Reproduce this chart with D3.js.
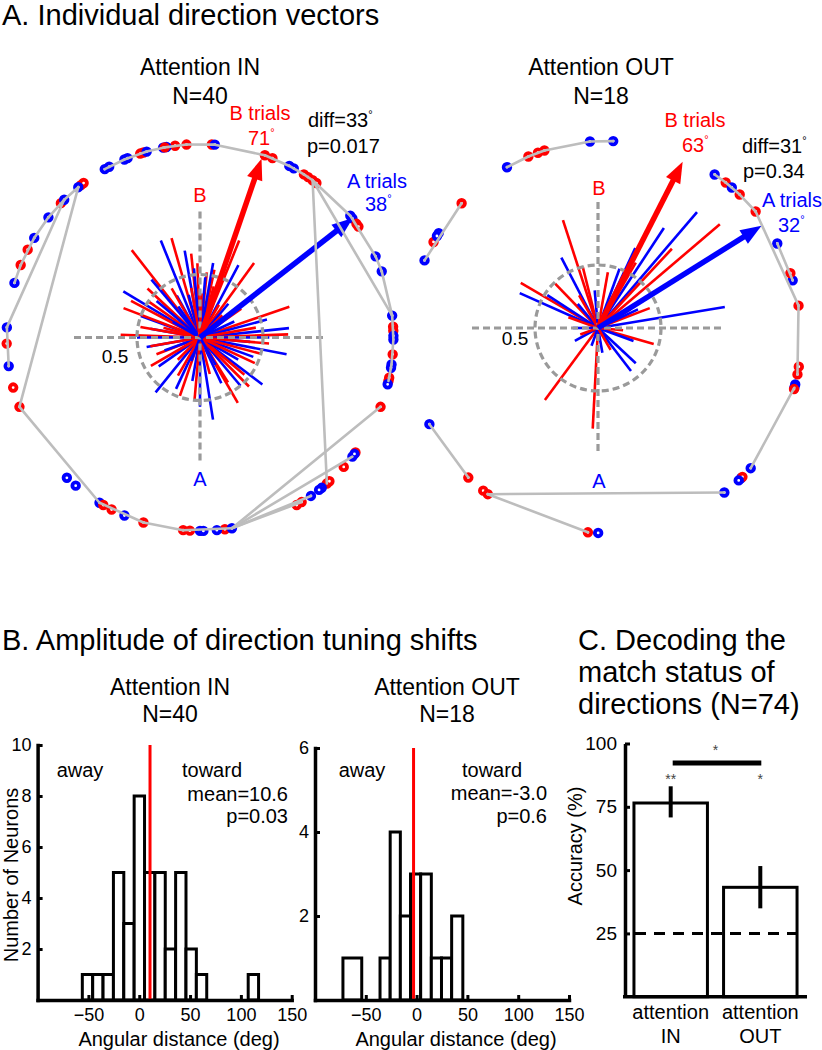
<!DOCTYPE html>
<html><head><meta charset="utf-8">
<script src="https://cdn.jsdelivr.net/npm/d3@7"></script>
<style>body{margin:0;background:#fff}svg{display:block}text{font-family:"Liberation Sans",Arial,Helvetica,sans-serif}</style>
</head><body><svg id="c" width="822" height="1050"></svg>
<script>
// ---------------- DATA ----------------
// Panel A, Attention IN : rays [angle deg, length]
const inRaysA = [[112,0.83],[149,0.71],[190,0.43],[231,0.56],[323,0.62],[349,0.70],[6,0.71],[62,0.65],[119,0.38],[160,0.50],[279,0.66],[95,0.55],[100,0.70],[85,0.48],[70,0.45],[50,0.35],[25,0.30],[15,0.55],[0,0.55],[355,0.40],[340,0.45],[330,0.35],[310,0.50],[295,0.40],[270,0.55],[260,0.35],[245,0.45],[215,0.40],[200,0.30],[180,0.50],[170,0.40],[140,0.45],[130,0.60],[125,0.30],[105,0.35],[80,0.60],[40,0.20],[300,0.25],[250,0.20],[150,0.25]];
const inRaysB = [[128,0.88],[106,0.82],[96,0.67],[92,0.59],[84,0.52],[68,0.83],[54,0.73],[19,0.75],[2,0.70],[137,0.57],[159,0.65],[178,0.63],[201,0.37],[251,0.49],[302,0.42],[320,0.46],[152,0.62],[145,0.50],[120,0.45],[88,0.35],[78,0.55],[75,0.42],[60,0.30],[35,0.40],[10,0.45],[355,0.55],[345,0.50],[335,0.48],[315,0.55],[300,0.60],[285,0.30],[265,0.50],[240,0.35],[225,0.25],[210,0.45],[190,0.40],[170,0.48],[165,0.30],[100,0.40],[45,0.25]];
const inDotsA = [119.5,118,113,112,106,101,100,85.6,62.5,61,39,38,24.8,20,6.5,359.4,352,351,129,134.6,141.6,149,163.6,177,188.5,226.5,230,238.7,247,270,271,275,279.5,305,309,322,323,346,0.5,308];
const inDotsB = [107,108,97.4,94,86.5,70.4,68,57.5,56,54.4,53,36,35,3.2,2,355,128,127,136,153,158,181.8,195,201,242.8,253,265,267,277.4,301.7,311,312,318,323.5,339,347,348,100.5,240,300];
const inLinks = [[119.5,113],[113,106],[106,101],[101,94],[94,85.6],[85.6,70.4],[70.4,62.5],[62.5,57.5],[57.5,54.4],[54.4,39],[39,24.8],[24.8,20],[20,6.5],[54.4,6.5],[54.4,311],[6.5,359.4],[359.4,352],[352,347],[279.5,339],[279.5,322],[279.5,305],[279.5,301.7],[201,238.7],[238.7,253],[253,265],[265,279.5],[129,201],[134.6,177],[129,134.6],[134.6,141.6],[141.6,149],[149,158],[158,163.6],[177,188.5]];
const inMeanA = [38, 1.54];
const inMeanB = [71, 1.50];

// Panel A, Attention OUT
const outRaysA = [[117.5,0.63],[156,0.68],[147,0.48],[49.5,1.21],[56.6,0.95],[9.4,1.02],[317,0.41],[307.5,0.43],[209,0.21],[70,0.50],[95,0.30],[130,0.25],[25,0.35],[340,0.30],[280,0.20],[250,0.15],[180,0.20],[65,0.70]];
const outRaysB = [[108,0.90],[149.7,0.71],[134,0.49],[104,0.50],[40.4,1.27],[47,0.86],[21,0.44],[344,0.46],[233.6,0.71],[267,0.80],[60,0.60],[80,0.45],[120,0.30],[160,0.25],[30,0.30],[355,0.20],[300,0.20],[200,0.15]];
const outDotsA = [148,157,120,94.4,87.6,56,49.7,28.5,16.8,346,345,318,314,307.5,206.4,268,149,313];
const outDotsB = [137,151,113,110,108,52,46.6,39.8,19,9.2,351.3,349,344.6,314.5,225.8,231.6,233.3,265];
const outLinks = [[137,157],[120,113],[113,108],[108,94.4],[94.4,87.6],[56,52],[52,46.6],[46.6,39.8],[39.8,9.2],[28.5,16.8],[9.2,349],[345,318],[307.5,233.3],[233.3,265],[206.4,225.8]];
const outMeanA = [32, 1.53];
const outMeanB = [63, 1.48];

// Panel B histograms
const histBinWidth = 10.2;
const hist1Lo = [-56,-45.8,-35.6,-25.4,-15.2,-5,5.2,15.4,25.6,35.8,46,56.2,107.2];
const hist1Counts = [1,1,1,5,3,8,5,5,2,5,2,1,1];
const hist1Mean = 10.6;
const hist2Lo = [-72.5,-36,-26,-16,-6,4,14.5,24.5,34.5];
const hist2Hi = [-54,-26,-16,-6,4,14.5,24.5,34.5,45.5];
const hist2Counts = [1,1,4,2,3,3,1,1,2];
const hist2Mean = -3.0;
const histXTicks = [-50,0,50,100,150];
const hist1YTicks = [2,4,6,8,10];
const hist2YTicks = [2,4,6];

// Panel C
const decodeCats = ["IN","OUT"];
const decodeAcc = [76.5, 43.2];
const decodeErrHi = [83.1, 51.6];
const decodeErrLo = [70.8, 34.9];
const decodeChance = 25;
const accTicks = [25,50,75,100];

// ---------------- DRAW ----------------
const svg = d3.select("#c");
const RED = "#ff0000", BLUE = "#0000ff", GRAY = "#9a9a9a", LGRAY = "#bdbdbd";

function txt(x, y, s, o = {}) {
  const t = svg.append("text").attr("x", x).attr("y", y)
    .attr("font-size", o.size || 20).attr("fill", o.fill || "#000")
    .attr("text-anchor", o.anchor || "start");
  if (o.rot) t.attr("transform", `rotate(${o.rot},${x},${y})`);
  t.text(s);
  return t;
}
function degTxt(x, y, s, o = {}) {
  const t = txt(x, y, s, o);
  t.append("tspan").attr("font-size", 11).attr("dy", -9).text("°");
  return t;
}

function polar(cfg) {
  const g = svg.append("g");
  const r = d3.scaleLinear().domain([0, 1]).range([0, 126]);
  const Pc = (cx, cy) => (a, l) => [cx + r(l) * Math.cos(a * Math.PI / 180), cy - r(l) * Math.sin(a * Math.PI / 180)];
  const P = Pc(cfg.cx, cfg.cy);
  const PR = Pc(cfg.rcx, cfg.rcy);
  // rays (interleaved)
  const n = Math.max(cfg.raysA.length, cfg.raysB.length);
  for (let i = 0; i < n; i++) {
    [[cfg.raysB[i], RED], [cfg.raysA[i], BLUE]].forEach(([d, c]) => {
      if (!d) return;
      const p = P(d[0], d[1]);
      g.append("line").attr("x1", cfg.cx).attr("y1", cfg.cy).attr("x2", p[0]).attr("y2", p[1])
        .attr("stroke", c).attr("stroke-width", 2.6);
    });
  }
  // dashed axes & circle
  const dash = { stroke: GRAY, "stroke-width": 3.2, "stroke-dasharray": "7,4", fill: "none" };
  const hl = [P(180, 1), P(0, 1)], vl = [P(90, 1), P(270, 1)];
  [hl, vl].forEach(l => {
    const e = g.append("line").attr("x1", l[0][0]).attr("y1", l[0][1]).attr("x2", l[1][0]).attr("y2", l[1][1]);
    Object.entries(dash).forEach(([k, v]) => e.attr(k, v));
  });
  const circ = g.append("circle").attr("cx", cfg.cx).attr("cy", cfg.cy).attr("r", r(0.5));
  Object.entries(dash).forEach(([k, v]) => circ.attr(k, v));
  // mean arrows
  [[cfg.meanB, RED], [cfg.meanA, BLUE]].forEach(([m, c]) => {
    const tip = P(m[0], m[1]);
    const a = m[0] * Math.PI / 180;
    const ux = Math.cos(a), uy = -Math.sin(a);
    const hl = 21, hw = 8;
    const bx = tip[0] - ux * hl, by = tip[1] - uy * hl;
    g.append("line").attr("x1", cfg.cx).attr("y1", cfg.cy).attr("x2", bx + ux * 2).attr("y2", by + uy * 2)
      .attr("stroke", c).attr("stroke-width", 5.5);
    g.append("path").attr("fill", c)
      .attr("d", `M${tip[0]},${tip[1]}L${bx - uy * hw},${by + ux * hw}L${bx + uy * hw},${by - ux * hw}Z`);
  });
  // ring dots
  const R = cfg.ring;
  const dots = [];
  const m = Math.max(cfg.dotsA.length, cfg.dotsB.length);
  for (let i = 0; i < m; i++) {
    if (cfg.dotsA[i] !== undefined) dots.push([cfg.dotsA[i], BLUE]);
    if (cfg.dotsB[i] !== undefined) dots.push([cfg.dotsB[i], RED]);
  }
  dots.forEach(([a, c]) => {
    const p = PR(a, R);
    g.append("circle").attr("cx", p[0]).attr("cy", p[1]).attr("r", 3.3)
      .attr("fill", "#fff").attr("stroke", c).attr("stroke-width", 3.8);
  });
  cfg.links.forEach(([a1, a2]) => {
    const p1 = PR(a1, R), p2 = PR(a2, R);
    g.append("line").attr("x1", p1[0]).attr("y1", p1[1]).attr("x2", p2[0]).attr("y2", p2[1])
      .attr("stroke", LGRAY).attr("stroke-width", 2.6).attr("stroke-linecap", "round");
  });
}

polar({ cx: 200, cy: 337.5, rcx: 200, rcy: 337.5, ring: 1.535, raysA: inRaysA, raysB: inRaysB, dotsA: inDotsA, dotsB: inDotsB, links: inLinks, meanA: inMeanA, meanB: inMeanB });
polar({ cx: 598, cy: 328, rcx: 605, rcy: 337, ring: 1.556, raysA: outRaysA, raysB: outRaysB, dotsA: outDotsA, dotsB: outDotsB, links: outLinks, meanA: outMeanA, meanB: outMeanB });

// Panel A texts
txt(2, 25, "A. Individual direction vectors", { size: 29 });
txt(200, 75, "Attention IN", { size: 23, anchor: "middle" });
txt(200, 104, "N=40", { size: 23, anchor: "middle" });
txt(601, 75, "Attention OUT", { size: 23, anchor: "middle" });
txt(601, 104, "N=18", { size: 23, anchor: "middle" });
txt(200, 202, "B", { size: 20, anchor: "middle", fill: RED });
txt(200, 486, "A", { size: 20, anchor: "middle", fill: BLUE });
txt(115, 363, "0.5", { size: 19, anchor: "middle" });
txt(599, 195, "B", { size: 20, anchor: "middle", fill: RED });
txt(599, 488, "A", { size: 20, anchor: "middle", fill: BLUE });
txt(515, 345, "0.5", { size: 19, anchor: "middle" });
txt(260, 120, "B trials", { size: 20, anchor: "middle", fill: RED });
degTxt(248, 145, "71", { size: 20, fill: RED });
degTxt(308, 127, "diff=33", { size: 20 });
txt(307, 153, "p=0.017", { size: 20 });
txt(347, 188, "A trials", { size: 20, fill: BLUE });
degTxt(365, 211, "38", { size: 20, fill: BLUE });
txt(695, 127, "B trials", { size: 20, anchor: "middle", fill: RED });
degTxt(682, 152, "63", { size: 20, fill: RED });
degTxt(742, 153, "diff=31", { size: 20 });
txt(743, 178, "p=0.34", { size: 20 });
txt(762, 207, "A trials", { size: 20, fill: BLUE });
degTxt(778, 232, "32", { size: 20, fill: BLUE });

// Panel B
txt(2, 650, "B. Amplitude of direction tuning shifts", { size: 29 });
txt(170, 695, "Attention IN", { size: 23, anchor: "middle" });
txt(170, 722, "N=40", { size: 23, anchor: "middle" });
txt(447, 695, "Attention OUT", { size: 23, anchor: "middle" });
txt(447, 722, "N=18", { size: 23, anchor: "middle" });

function hist(cfg) {
  const x = d3.scaleLinear().domain([-100, 150]).range(cfg.xr);
  const y = d3.scaleLinear().domain([0, cfg.ymax]).range([1000, cfg.ytop]);
  const g = svg.append("g");
  g.selectAll("rect").data(cfg.counts).join("rect")
    .attr("x", (d, i) => x(cfg.lo[i])).attr("width", (d, i) => x(cfg.hi[i]) - x(cfg.lo[i]))
    .attr("y", d => y(d)).attr("height", d => y(0) - y(d))
    .attr("fill", "#fff").attr("stroke", "#000").attr("stroke-width", 3);
  g.append("line").attr("x1", x(cfg.mean)).attr("x2", x(cfg.mean)).attr("y1", y(cfg.ymax)).attr("y2", y(0))
    .attr("stroke", RED).attr("stroke-width", 3);
  const xa = g.append("g").attr("transform", "translate(0,1000)")
    .call(d3.axisBottom(x).tickValues(histXTicks).tickFormat(d3.format("d")).tickSizeInner(-5).tickSizeOuter(0).tickPadding(8));
  const ya = g.append("g").attr("transform", `translate(${cfg.xr[0]},0)`)
    .call(d3.axisLeft(y).tickValues(cfg.yticks).tickFormat(d3.format("d")).tickSizeInner(-5).tickSizeOuter(0).tickPadding(6));
  [xa, ya].forEach(a => {
    a.select(".domain").attr("stroke-width", 3.5).attr("stroke-linecap", "square");
    a.selectAll(".tick line").attr("stroke-width", 3);
    a.selectAll(".tick text").attr("font-size", 18).attr("font-family", '"Liberation Sans",Arial,sans-serif').attr("fill", "#000");
  });
}
hist({ xr: [37.6, 291.7], ymax: 10, ytop: 745, lo: hist1Lo, hi: hist1Lo.map(v => v + histBinWidth), counts: hist1Counts, mean: hist1Mean, yticks: hist1YTicks });
hist({ xr: [315, 569], ymax: 6, ytop: 748, lo: hist2Lo, hi: hist2Hi, counts: hist2Counts, mean: hist2Mean, yticks: hist2YTicks });

txt(80, 777, "away", { size: 20, anchor: "middle" });
txt(212, 777, "toward", { size: 20, anchor: "middle" });
txt(288, 801, "mean=10.6", { size: 20, anchor: "end" });
txt(288, 823, "p=0.03", { size: 20, anchor: "end" });
txt(362, 777, "away", { size: 20, anchor: "middle" });
txt(492, 777, "toward", { size: 20, anchor: "middle" });
txt(547, 800, "mean=-3.0", { size: 20, anchor: "end" });
txt(547, 823, "p=0.6", { size: 20, anchor: "end" });
txt(18, 875, "Number of Neurons", { size: 20, anchor: "middle", rot: -90 });
txt(179, 1046, "Angular distance (deg)", { size: 20, anchor: "middle" });
txt(456, 1046, "Angular distance (deg)", { size: 20, anchor: "middle" });

// Panel C
txt(578, 650, "C. Decoding the", { size: 29 });
txt(578, 682, "match status of", { size: 29 });
txt(578, 714, "directions (N=74)", { size: 29 });
{
  const y = d3.scaleLinear().domain([0, 100]).range([996.7, 743.5]);
  const x = d3.scaleBand().domain(decodeCats).range([625, 806]).paddingInner(0.18).paddingOuter(0.1);
  const g = svg.append("g");
  g.selectAll("rect").data(decodeAcc).join("rect")
    .attr("x", (d, i) => x(decodeCats[i])).attr("width", x.bandwidth())
    .attr("y", d => y(d)).attr("height", d => y(0) - y(d))
    .attr("fill", "#fff").attr("stroke", "#000").attr("stroke-width", 3);
  g.selectAll("line.err").data(decodeAcc).join("line").attr("class", "err")
    .attr("x1", (d, i) => x(decodeCats[i]) + x.bandwidth() / 2).attr("x2", (d, i) => x(decodeCats[i]) + x.bandwidth() / 2)
    .attr("y1", (d, i) => y(decodeErrLo[i])).attr("y2", (d, i) => y(decodeErrHi[i]))
    .attr("stroke", "#000").attr("stroke-width", 4);
  g.append("line").attr("x1", 625).attr("x2", 806).attr("y1", y(decodeChance)).attr("y2", y(decodeChance))
    .attr("stroke", "#000").attr("stroke-width", 3).attr("stroke-dasharray", "11,8").attr("stroke-dashoffset", -10);
  const ya = g.append("g").attr("transform", "translate(625,0)")
    .call(d3.axisLeft(y).tickValues(accTicks).tickSizeInner(-5).tickSizeOuter(0).tickPadding(8));
  ya.select(".domain").attr("stroke-width", 3.5);
  ya.selectAll(".tick line").attr("stroke-width", 3);
  ya.selectAll(".tick text").attr("font-size", 19).attr("font-family", '"Liberation Sans",Arial,sans-serif').attr("fill", "#000");
  g.append("line").attr("x1", 623).attr("x2", 807).attr("y1", y(0)).attr("y2", y(0)).attr("stroke", "#000").attr("stroke-width", 3.5);
  const c1 = x("IN") + x.bandwidth() / 2, c2 = x("OUT") + x.bandwidth() / 2;
  g.append("line").attr("x1", c1 + 2).attr("x2", c2 + 1).attr("y1", 763).attr("y2", 763).attr("stroke", "#000").attr("stroke-width", 5);
  txt((c1 + c2) / 2, 755, "*", { size: 14, anchor: "middle", fill: "#444" });
  txt(c1, 784, "**", { size: 14, anchor: "middle", fill: "#444" });
  txt(c2, 784, "*", { size: 14, anchor: "middle", fill: "#444" });
  txt(c1, 1019, "attention", { size: 20, anchor: "middle" });
  txt(c1, 1043, "IN", { size: 20, anchor: "middle" });
  txt(c2, 1019, "attention", { size: 20, anchor: "middle" });
  txt(c2, 1043, "OUT", { size: 20, anchor: "middle" });
  txt(582, 846, "Accuracy (%)", { size: 20, anchor: "middle", rot: -90 });
}
</script></body></html>
